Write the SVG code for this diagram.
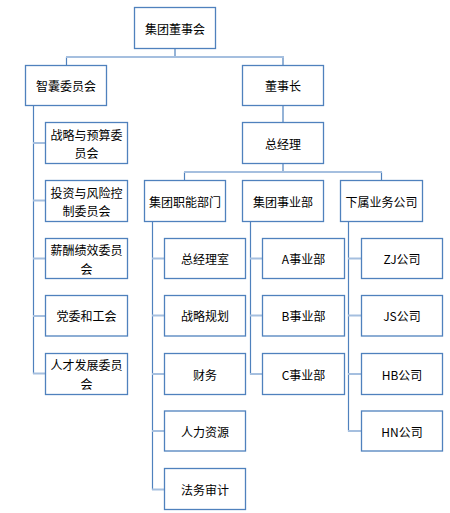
<svg xmlns="http://www.w3.org/2000/svg" width="450" height="513" viewBox="0 0 450 513">
<style>
.box{fill:#fff;stroke:#4f81bd;stroke-width:1.3}
.t{font-family:"Noto Sans CJK SC","Microsoft YaHei",sans-serif;font-size:12px;fill:#000;text-anchor:middle;dominant-baseline:central}
.v{fill:none;stroke:#4f81bd;stroke-width:1.2}
.h{fill:none;stroke:#a5bfdf;stroke-width:2}
</style>
<rect width="450" height="513" fill="#fff"/>
<g id="connectors">
<path class="v" d="M175 48.5V57M66.5 57V65.5M283 57V65.5M283 105.5V122.5M283 163.5V172M184.5 172V180.5M381.5 172V180.5"/>
<path class="h" d="M66 57H284M184 172H382"/>
<path class="v" d="M33.5 105.5V374M152.5 221.5V490M250.5 221.5V374.5M348.5 221.5V431.5"/>
<path class="h" d="M33 143H45.5M33 200.5H45.5M33 258.5H45.5M33 316H45.5M33 373.5H45.5M152 258.5H164.5M152 315.5H164.5M152 374H164.5M152 431H164.5M152 489.5H164.5M250 258.5H262.5M250 315.5H262.5M250 374H262.5M348 258.5H361.5M348 315.5H361.5M348 374H361.5M348 431H361.5"/>
</g>
<g id="n-board"><rect class="box" x="134.5" y="7.5" width="81" height="41"/><text class="t" x="175" y="28">集团董事会</text></g>
<g id="n-think"><rect class="box" x="25.5" y="65.5" width="81" height="40"/><text class="t" x="66" y="85.5">智囊委员会</text></g>
<g id="n-chair"><rect class="box" x="242.5" y="65.5" width="81" height="40"/><text class="t" x="283" y="85.5">董事长</text></g>
<g id="n-gm"><rect class="box" x="242.5" y="122.5" width="81" height="41"/><text class="t" x="283" y="143">总经理</text></g>
<g id="n-c1"><rect class="box" x="45.5" y="122.5" width="82" height="41"/><text class="t" x="86.5" y="134">战略与预算委</text><text class="t" x="86.5" y="152.5">员会</text></g>
<g id="n-c2"><rect class="box" x="45.5" y="180.5" width="82" height="41"/><text class="t" x="86.5" y="192">投资与风险控</text><text class="t" x="86.5" y="210.5">制委员会</text></g>
<g id="n-c3"><rect class="box" x="45.5" y="238.5" width="82" height="40"/><text class="t" x="86.5" y="249.5">薪酬绩效委员</text><text class="t" x="86.5" y="268">会</text></g>
<g id="n-c4"><rect class="box" x="45.5" y="295.5" width="82" height="40.5"/><text class="t" x="86.5" y="315.5">党委和工会</text></g>
<g id="n-c5"><rect class="box" x="45.5" y="353.5" width="82" height="41"/><text class="t" x="86.5" y="364.5">人才发展委员</text><text class="t" x="86.5" y="383">会</text></g>
<g id="n-func"><rect class="box" x="144.5" y="180.5" width="81" height="41"/><text class="t" x="185" y="201">集团职能部门</text></g>
<g id="n-biz"><rect class="box" x="242.5" y="180.5" width="81" height="41"/><text class="t" x="283" y="201">集团事业部</text></g>
<g id="n-sub"><rect class="box" x="340.5" y="180.5" width="82" height="41"/><text class="t" x="381.5" y="201">下属业务公司</text></g>
<g id="n-f1"><rect class="box" x="164.5" y="238.5" width="81" height="40"/><text class="t" x="205" y="258.5">总经理室</text></g>
<g id="n-f2"><rect class="box" x="164.5" y="295.5" width="81" height="40.5"/><text class="t" x="205" y="315.5">战略规划</text></g>
<g id="n-f3"><rect class="box" x="164.5" y="353.5" width="81" height="41"/><text class="t" x="205" y="374">财务</text></g>
<g id="n-f4"><rect class="box" x="164.5" y="411" width="81" height="40"/><text class="t" x="205" y="431">人力资源</text></g>
<g id="n-f5"><rect class="box" x="164.5" y="468.5" width="81" height="41"/><text class="t" x="205" y="489">法务审计</text></g>
<g id="n-a"><rect class="box" x="262.5" y="238.5" width="82" height="40"/><text class="t" x="303.5" y="258.5">A事业部</text></g>
<g id="n-b"><rect class="box" x="262.5" y="295.5" width="82" height="40.5"/><text class="t" x="303.5" y="315.5">B事业部</text></g>
<g id="n-c"><rect class="box" x="262.5" y="353.5" width="82" height="41"/><text class="t" x="303.5" y="374">C事业部</text></g>
<g id="n-zj"><rect class="box" x="361.5" y="238.5" width="81" height="40"/><text class="t" x="402" y="258.5">ZJ公司</text></g>
<g id="n-js"><rect class="box" x="361.5" y="295.5" width="81" height="40.5"/><text class="t" x="402" y="315.5">JS公司</text></g>
<g id="n-hb"><rect class="box" x="361.5" y="353.5" width="81" height="41"/><text class="t" x="402" y="374">HB公司</text></g>
<g id="n-hn"><rect class="box" x="361.5" y="411" width="81" height="40"/><text class="t" x="402" y="431">HN公司</text></g>
</svg>
